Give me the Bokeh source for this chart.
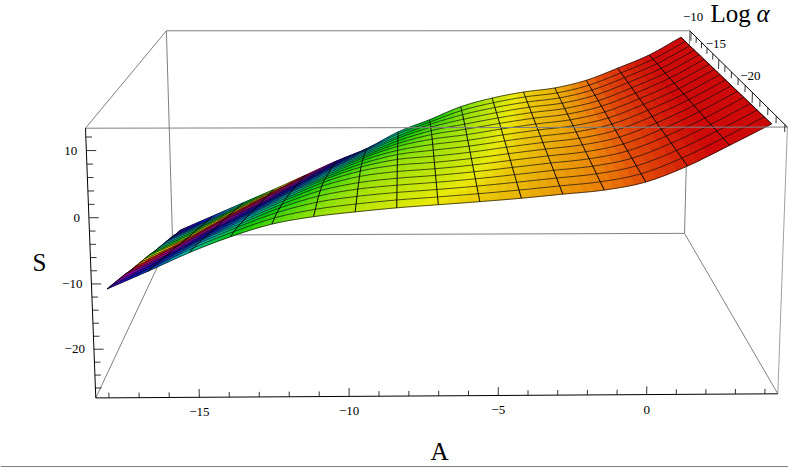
import colorsys
import numpy as np
from bokeh.core.properties import value
from bokeh.embed import file_html
from bokeh.plotting import figure
from bokeh.resources import INLINE

# ---- data -----------------------------------------------------------------
A_LINES = [-18.0, -16.625, -15.25, -13.875, -12.5, -11.125, -9.75, -8.375, -7.0,
           -5.625, -4.25, -2.875, -1.5, -0.125, 1.25, 2.625, 4.0]
LOG_ALPHA_LINES = [-24.0, -23.125, -22.25, -21.375, -20.5, -19.625, -18.75, -17.875, -17.0,
                   -16.125, -15.25, -14.375, -13.5, -12.625, -11.75, -10.875, -10.0]
# S at each A line (outer), from the lowest Log alpha (front) to the highest (back)
S_A00 = [-11.3,-12.2,-13.1,-14.0,-15.0,-15.9,-16.8,-17.7,-18.6,-19.6,-20.5,-21.4,-22.3,-23.2,-24.2,-25.1,-26.0]
S_A01 = [-8.6,-9.5,-10.4,-11.3,-12.3,-13.2,-14.1,-15.1,-16.0,-17.0,-17.9,-18.8,-19.7,-20.7,-21.6,-22.6,-23.3]
S_A02 = [-5.8,-6.6,-7.5,-8.4,-9.4,-10.3,-11.2,-12.2,-13.1,-14.0,-15.0,-15.9,-16.9,-17.8,-18.8,-19.7,-20.6]
S_A03 = [-3.4,-4.1,-4.9,-5.8,-6.7,-7.6,-8.5,-9.5,-10.4,-11.3,-12.3,-13.2,-14.1,-15.1,-16.0,-17.0,-17.9]
S_A04 = [-1.5,-2.0,-2.6,-3.3,-4.1,-4.9,-5.8,-6.7,-7.6,-8.6,-9.5,-10.4,-11.4,-12.3,-13.2,-14.2,-15.1]
S_A05 = [-0.4,-0.7,-1.0,-1.4,-1.9,-2.5,-3.2,-4.0,-4.9,-5.8,-6.7,-7.6,-8.5,-9.5,-10.4,-11.3,-12.25]
S_A06 = [0.3,0.1,-0.1,-0.3,-0.6,-0.9,-1.3,-1.9,-2.6,-3.3,-4.1,-5.0,-5.9,-6.8,-7.7,-8.7,-9.7]
S_A07 = [0.9,0.7,0.5,0.3,0.1,-0.1,-0.3,-0.6,-1.0,-1.5,-2.0,-2.7,-3.4,-4.1,-4.9,-5.6,-6.4]
S_A08 = [1.35,1.15,0.95,0.75,0.55,0.35,0.15,-0.05,-0.25,-0.45,-0.7,-1.05,-1.5,-2.0,-2.6,-3.3,-4.0]
S_A09 = [1.8,1.63,1.46,1.29,1.12,0.95,0.78,0.61,0.44,0.27,0.1,-0.08,-0.3,-0.5,-0.75,-1.05,-1.4]
S_A10 = [2.3,2.18,2.06,1.94,1.82,1.7,1.58,1.46,1.34,1.22,1.1,0.98,0.86,0.74,0.62,0.47,0.3]
S_A11 = [2.9,2.8,2.7,2.62,2.53,2.44,2.35,2.26,2.17,2.08,2.0,1.92,1.84,1.76,1.68,1.6,1.5]
S_A12 = [3.5,3.42,3.35,3.27,3.2,3.12,3.05,2.97,2.9,2.82,2.75,2.67,2.6,2.52,2.45,2.37,2.3]
S_A13 = [4.7,4.64,4.58,4.52,4.46,4.4,4.35,4.3,4.25,4.2,4.15,4.1,4.05,4.0,3.95,3.87,3.8]
S_A14 = [7.1,7.04,6.98,6.92,6.86,6.8,6.75,6.7,6.65,6.6,6.55,6.5,6.45,6.4,6.33,6.27,6.2]
S_A15 = [10.2,10.1,10.0,9.9,9.8,9.72,9.64,9.56,9.48,9.4,9.32,9.24,9.16,9.08,9.0,8.9,8.8]
S_A16 = [13.4,13.33,13.26,13.19,13.12,13.05,12.98,12.91,12.84,12.77,12.7,12.63,12.56,12.49,12.42,12.36,12.3]

# colour scale: S value to hue turns (runs through the rainbow more than once)
SCALE_S = [-26,-22,-19,-17,-15,-13,-11.3,-10,-8,-5.8,-3.4,-1.5,-0.4,0.3,0.9,1.35,1.8,2.3,2.9,3.5,4.7,7,9,14]
SCALE_HUE = [1.75,1.6,1.38,1.2,1.0,0.85,0.72,0.66,0.58,0.45,0.33,0.27,0.225,0.2,0.18,0.16,0.14,0.125,0.105,0.085,0.05,0.02,0.0,0.0]
# brightness of the shaded surface by hue
SHADE_HUE = [0.0, 0.05, 0.085, 0.16, 0.25, 0.33, 0.5, 0.66, 0.8, 1.0]
SHADE_VAL = [0.80, 0.88, 0.92, 0.92, 0.87, 0.78, 0.72, 0.74, 0.68, 0.80]

A_TICKS = [-15, -10, -5, 0]
A_MINOR = [-18,-17,-16,-14,-13,-12,-11,-9,-8,-7,-6,-4,-3,-2,-1,1,2,3,4]
S_TICKS = [10, 0, -10, -20]
S_MINOR = [12,8,6,4,2,-2,-4,-6,-8,-12,-14,-16,-18,-22,-24,-26]
L_TICKS = [-10, -15, -20]
L_MINOR = [-11,-12,-13,-14,-16,-17,-18,-19,-21,-22,-23,-24]

# ---- box and view ----------------------------------------------------------
A_BOX = (-18.44, 4.44)
L_BOX = (-24.28, -9.72)   # front, back
S_BOX = (-27.55, 13.3)
CORNERS = {(0,0,0):(95,397),(1,0,0):(777.5,393),(0,0,1):(85,128),(1,0,1):(787,127),
           (0,1,0):(172,235),(1,1,0):(684,233),(0,1,1):(166,30),(1,1,1):(689,30)}
rows, rhs = [], []
for (a, l, s), (u, v) in CORNERS.items():
    rows.append([a,l,s,1,0,0,0,0,-u*a,-u*l,-u*s]); rhs.append(u)
    rows.append([0,0,0,0,a,l,s,1,-v*a,-v*l,-v*s]); rhs.append(v)
H = np.linalg.lstsq(np.array(rows, float), np.array(rhs, float), rcond=None)[0]

def proj(A, L, S):
    a = (np.asarray(A, float)-A_BOX[0])/(A_BOX[1]-A_BOX[0])
    l = (np.asarray(L, float)-L_BOX[0])/(L_BOX[1]-L_BOX[0])
    s = (np.asarray(S, float)-S_BOX[0])/(S_BOX[1]-S_BOX[0])
    w = H[8]*a+H[9]*l+H[10]*s+1
    return (H[0]*a+H[1]*l+H[2]*s+H[3])/w, (H[4]*a+H[5]*l+H[6]*s+H[7])/w

def hue_color(S):
    h = float(np.interp(S, SCALE_S, SCALE_HUE)) % 1.0
    r, g, b = colorsys.hsv_to_rgb(h, 0.98, float(np.interp(h, SHADE_HUE, SHADE_VAL)))
    return "#%02x%02x%02x" % (int(r*255), int(g*255), int(b*255))

def spline_axis(M, n):
    """Smooth rendering of a mesh between its read nodes (Catmull-Rom along axis 0)."""
    M = np.asarray(M, float)
    P = np.concatenate([2*M[:1]-M[1:2], M, 2*M[-1:]-M[-2:-1]], axis=0)
    out = []
    for k in range(1, len(P)-2):
        for q in range(n):
            t = q/n
            out.append(0.5*(2*P[k]+(P[k+1]-P[k-1])*t+(2*P[k-1]-5*P[k]+4*P[k+1]-P[k+2])*t*t
                            +(3*P[k]-P[k-1]-3*P[k+1]+P[k+2])*t**3))
    out.append(P[-2])
    return np.array(out)

p = figure(width=788, height=467, x_range=(0,788), y_range=(467,0), tools="",
           toolbar_location=None, output_backend="svg", min_border=0,
           outline_line_color=None, background_fill_color="white")
p.axis.visible = False
p.grid.visible = False
p.styles = {"position":"absolute","left":"0px","top":"0px"}

def seg(c1, c2, color="#808080", width=1.0):
    A = [A_BOX[c[0]] for c in (c1,c2)]
    L = [L_BOX[c[1]] for c in (c1,c2)]
    S = [S_BOX[c[2]] for c in (c1,c2)]
    x, y = proj(A, L, S)
    p.line(list(x), list(y), line_color=color, line_width=width)

# box edges behind the surface
seg((0,1,0),(1,1,0)); seg((0,1,0),(0,1,1)); seg((1,1,0),(1,1,1))
seg((0,1,0),(0,0,0)); seg((1,1,0),(1,0,0))
seg((0,1,1),(1,1,1)); seg((0,1,1),(0,0,1))
seg((1,0,0),(1,0,1), "#a0a0a0")

# surface
S_GRID = np.array([S_A00,S_A01,S_A02,S_A03,S_A04,S_A05,S_A06,S_A07,S_A08,S_A09,S_A10,S_A11,S_A12,S_A13,S_A14,S_A15,S_A16])
AA = np.array(A_LINES); LL = np.array(LOG_ALPHA_LINES)
N = 4
S_F = spline_axis(spline_axis(S_GRID, N).T, N).T
A_F = spline_axis(AA, N); L_F = spline_axis(LL, N)
PX, PY = proj(A_F[:,None], L_F[None,:], S_F)
xs, ys, cols = [], [], []
for j in range(S_F.shape[1]-2, -1, -1):
    for i in range(S_F.shape[0]-1):
        xs.append([PX[i,j],PX[i+1,j],PX[i+1,j+1],PX[i,j+1]])
        ys.append([PY[i,j],PY[i+1,j],PY[i+1,j+1],PY[i,j+1]])
        cols.append(hue_color(float(S_F[i:i+2,j:j+2].mean())))
p.patches(xs, ys, fill_color=cols, line_color=cols, line_width=0.6)

# mesh
p.multi_line([list(PX[:,j]) for j in range(0,S_F.shape[1],N)],
             [list(PY[:,j]) for j in range(0,S_F.shape[1],N)], line_color="#101010", line_width=0.7)
p.multi_line([list(PX[i,:]) for i in range(0,S_F.shape[0],N)],
             [list(PY[i,:]) for i in range(0,S_F.shape[0],N)], line_color="black", line_width=1.0)

# box edge in front of the surface, and axes
seg((0,0,1),(1,0,1))
seg((0,0,0),(0,0,1), "black"); seg((0,0,0),(1,0,0), "black"); seg((1,1,1),(1,0,1), "black")

tx, ty = [], []
def tick(A0, L0, S0, A1, L1, S1):
    x, y = proj([A0,A1],[L0,L1],[S0,S1]); tx.append(list(x)); ty.append(list(y))
for t in A_TICKS: tick(t,L_BOX[0],S_BOX[0],t,L_BOX[0],S_BOX[0]+1.3)
for t in A_MINOR: tick(t,L_BOX[0],S_BOX[0],t,L_BOX[0],S_BOX[0]+0.8)
for t in S_TICKS: tick(A_BOX[0],L_BOX[0],t,A_BOX[0]+0.32,L_BOX[0],t)
for t in S_MINOR: tick(A_BOX[0],L_BOX[0],t,A_BOX[0]+0.2,L_BOX[0],t)
for t in L_TICKS: tick(A_BOX[1],t,S_BOX[1],A_BOX[1],t,S_BOX[1]-1.7)
for t in L_MINOR: tick(A_BOX[1],t,S_BOX[1],A_BOX[1],t,S_BOX[1]-1.1)
p.multi_line(tx, ty, line_color="black", line_width=0.8)

serif = value("Liberation Serif")
def label(x, y, txt, size, align="center", style="normal", xo=0, yo=0):
    p.text([x],[y],text=[txt],text_font=serif,text_font_size=size,text_align=align,
           text_baseline="middle",text_font_style=style,text_color="black",x_offset=xo,y_offset=yo)
for t in S_TICKS:
    x, y = proj(A_BOX[0], L_BOX[0], t)
    label(float(x), float(y), str(t).replace("-","\u2212"), "13px", "right", xo=-9)
for t in A_TICKS:
    x, y = proj(t, L_BOX[0], S_BOX[0])
    label(float(x), float(y), str(t).replace("-","\u2212"), "13px", yo=15)
for t, xo, yo in zip(L_TICKS, [2,-3,-2], [-15,-15,-17]):
    x, y = proj(A_BOX[1], t, S_BOX[1])
    label(float(x), float(y), str(t).replace("-","\u2212"), "13px", xo=xo, yo=yo)
label(39, 262, "S", "25px")
label(439, 451, "A", "25px")
label(710, 13, "Log", "25px", "left")
label(756, 13, "\u03b1", "25px", "left", "italic")
p.line([0,788],[466,466], line_color="#808080", line_width=1)

open("out.html", "w").write(file_html(p, INLINE))
